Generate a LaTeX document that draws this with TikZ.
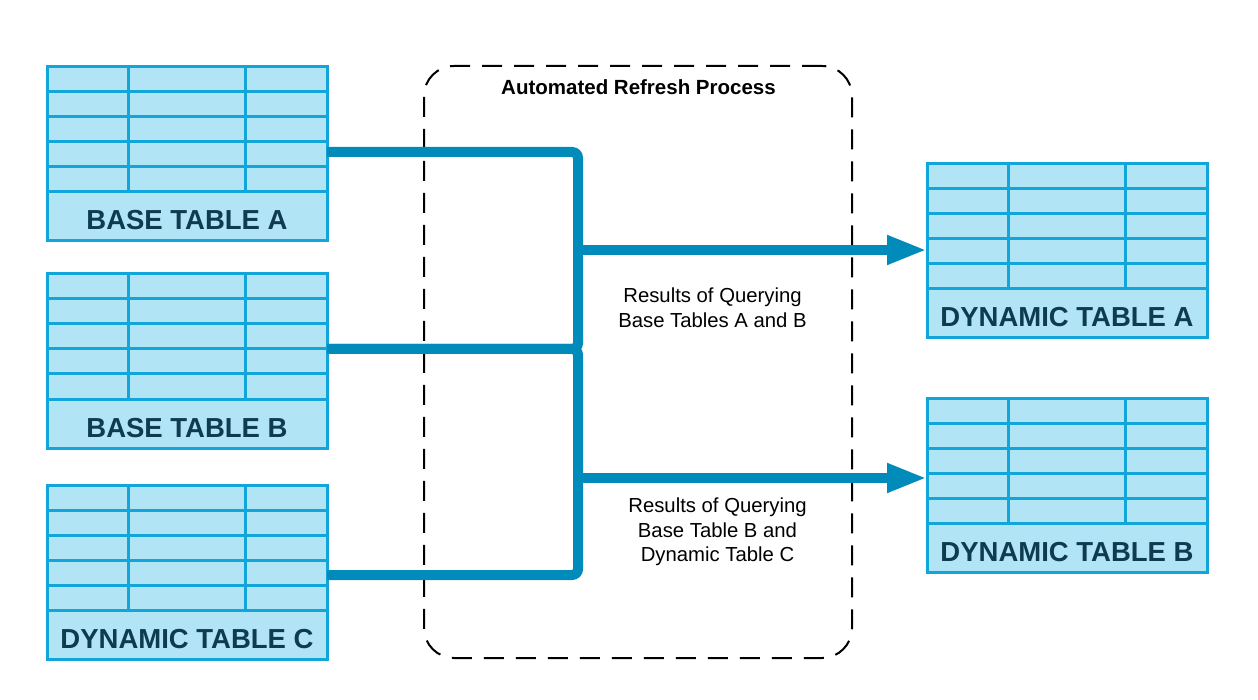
\documentclass[tikz,border=0pt]{standalone}
\usepackage{fontspec}
\setmainfont{Liberation Sans}
\usepackage{tikz}
\usetikzlibrary{positioning}
\usetikzlibrary{calc,arrows.meta}

\definecolor{cellfill}{HTML}{B1E5F5}
\definecolor{cellline}{HTML}{12A5DA}
\definecolor{flowblue}{HTML}{008BBA}
\definecolor{labelink}{HTML}{0E3B4F}

\tikzset{
	tablebox/.style={draw=cellline, fill=cellfill, line width=3pt, minimum width=280pt, minimum height=174pt, inner sep=0pt, outer sep=0pt, anchor=north west},
	gridline/.style={draw=cellline, line width=3pt},
	tablelabel/.style={font=\fontsize{27.5}{31}\selectfont\bfseries, text=labelink, anchor=base, inner sep=0pt},
	flow/.style={draw=flowblue, line width=10pt},
	flowarrow/.style={flow, -{Triangle[length=40pt,width=27pt]}},
	process/.style={draw=black, line width=2pt, dash pattern=on 20pt off 12pt, rounded corners=30pt, minimum width=428pt, minimum height=592pt, inner sep=0pt, outer sep=0pt},
	note/.style={font=\fontsize{20.3}{24.5}\selectfont, align=center, anchor=north, inner sep=0pt},
}

% a table: name, top left x, top left y, caption
\newcommand{\datatable}[4]{%
	\node[tablebox] (#1) at (#2,#3) {};
	\foreach \row in {25,50,...,125}
		\draw[gridline] ($(#1.north west)+(0,\row)$) -- ($(#1.north east)+(0,\row)$);
	\foreach \col in {81,198}
		\draw[gridline] ($(#1.north west)+(\col,-1)$) -- ($(#1.north west)+(\col,125)$);
	\node[tablelabel] (#1-label) at ($(#1.south)+(0,-11)$) {#4};
}

\begin{document}
\begin{tikzpicture}[x=1pt, y=-1pt]
	
	\useasboundingbox (0,0) rectangle (1258,700);
	
	% the refresh process frame and its title
	\node[process] (refresh) at (638,362) {};
	\node[font=\fontsize{20.5}{24}\selectfont\bfseries, anchor=base, inner sep=0pt] (title) at (638.5,95) {Automated Refresh Process};
	
	% tables: sources on the left, targets on the right
	\datatable{BTA}{47}{67}{BASE TABLE A}
	\datatable{BTB}{47}{274}{BASE TABLE B}
	\datatable{DTC}{47}{485}{DYNAMIC TABLE C}
	\datatable{DTA}{927}{164}{DYNAMIC TABLE A}
	\datatable{DTB}{927}{398}{DYNAMIC TABLE B}
	
	% where the feeds leave and enter the tables
	\coordinate (inA) at ($(BTA.north east)+(0,85)$);
	\coordinate (inB) at ($(BTB.north east)+(0,75)$);
	\coordinate (inC) at ($(DTC.north east)+(0,90)$);
	\coordinate (outA) at ($(DTA.north west)+(0,86)$);
	\coordinate (outB) at ($(DTB.north west)+(0,80)$);
	
	% the vertical bus
	\coordinate (bus) at (578,0);
	
	%%%%%%%%%%%%%%%%%%%%%%%%%%%%%%%%%%%%%%%%%%%%%%%%%%%%%%%%%%%%%%
	
	% A and B -> dynamic table A
	\draw[flow, rounded corners=6pt] (inA) -| (bus |- outA);
	\draw[flow, rounded corners=6pt] (inB) -| (bus |- outA);
	\draw[flowarrow] (bus |- outA) -- (outA);
	
	% B and C -> dynamic table B
	\draw[flow, rounded corners=6pt] (inB) -| (bus |- outB);
	\draw[flow, rounded corners=6pt] (inC) -| (bus |- outB);
	\draw[flowarrow] (bus |- outB) -- (outB);
	
	% notes under the arrows
	\node[note] (noteA) at (712.5,288) {Results of Querying\\Base Tables A and B};
	\node[note] (noteB) at (717.5,498) {Results of Querying\\Base Table B and\\Dynamic Table C};
	
\end{tikzpicture}
\end{document}
